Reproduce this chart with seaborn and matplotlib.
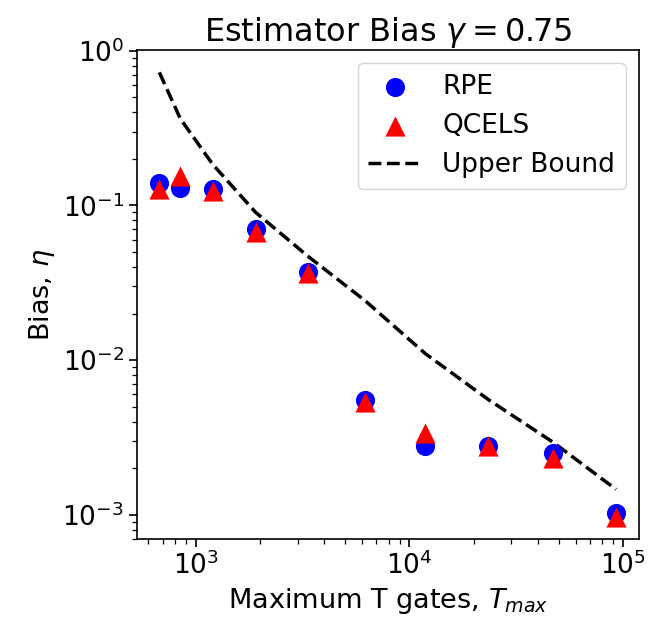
import matplotlib
matplotlib.use("Agg")
from matplotlib import pyplot as plt
import seaborn as sns
import pandas as pd

# max T gates per run
t_max = [676, 847, 1202, 1905, 3365, 6210, 11885, 23400, 47100, 92700]
rpe_bias = [0.140, 0.129, 0.127, 0.0705, 0.0370, 0.00554, 0.00277, 0.00280, 0.00250, 0.00103]
qcels_bias = [0.128, 0.155, 0.123, 0.0675, 0.0368, 0.00540, 0.00340, 0.00280, 0.00234, 0.00097]
upper_bound = [0.724, 0.364, 0.184, 0.0903, 0.0467, 0.0242, 0.0110, 0.00556, 0.00294, 0.00146]

df = pd.DataFrame({'T': t_max, 'RPE': rpe_bias, 'QCELS': qcels_bias, 'bound': upper_bound})

plt.rcParams['font.size'] = 19
plt.rcParams['axes.linewidth'] = 1.2
plt.rcParams['xtick.major.size'] = 5.5
plt.rcParams['ytick.major.size'] = 5.5
plt.rcParams['xtick.minor.size'] = 3.3
plt.rcParams['ytick.minor.size'] = 3.3
plt.rcParams['xtick.major.width'] = 1.2
plt.rcParams['ytick.major.width'] = 1.2
plt.rcParams['xtick.minor.width'] = 0.9
plt.rcParams['ytick.minor.width'] = 0.9

fig, ax = plt.subplots(figsize=(6.5, 6.35), dpi=100)

sns.scatterplot(data=df, x='T', y='RPE', color='blue', marker='o', s=190,
                linewidth=0, label='RPE', ax=ax, zorder=3)
sns.scatterplot(data=df, x='T', y='QCELS', color='red', marker='^', s=210,
                linewidth=0, label='QCELS', ax=ax, zorder=4)
sns.lineplot(data=df, x='T', y='bound', color='black', linestyle='--',
             linewidth=2.5, label='Upper Bound', ax=ax)

ax.set_xscale('log')
ax.set_yscale('log')
ax.set_title(r'Estimator Bias $\gamma = 0.75$', fontsize=23)
ax.set_xlabel(r'Maximum T gates, $T_{max}$', fontsize=19.5)
ax.set_ylabel(r'Bias, $\eta$', fontsize=19.5)
ax.legend(loc='upper right')

fig.subplots_adjust(left=0.21, right=0.983, top=0.921, bottom=0.151)
fig.savefig('out.png', dpi=100)
